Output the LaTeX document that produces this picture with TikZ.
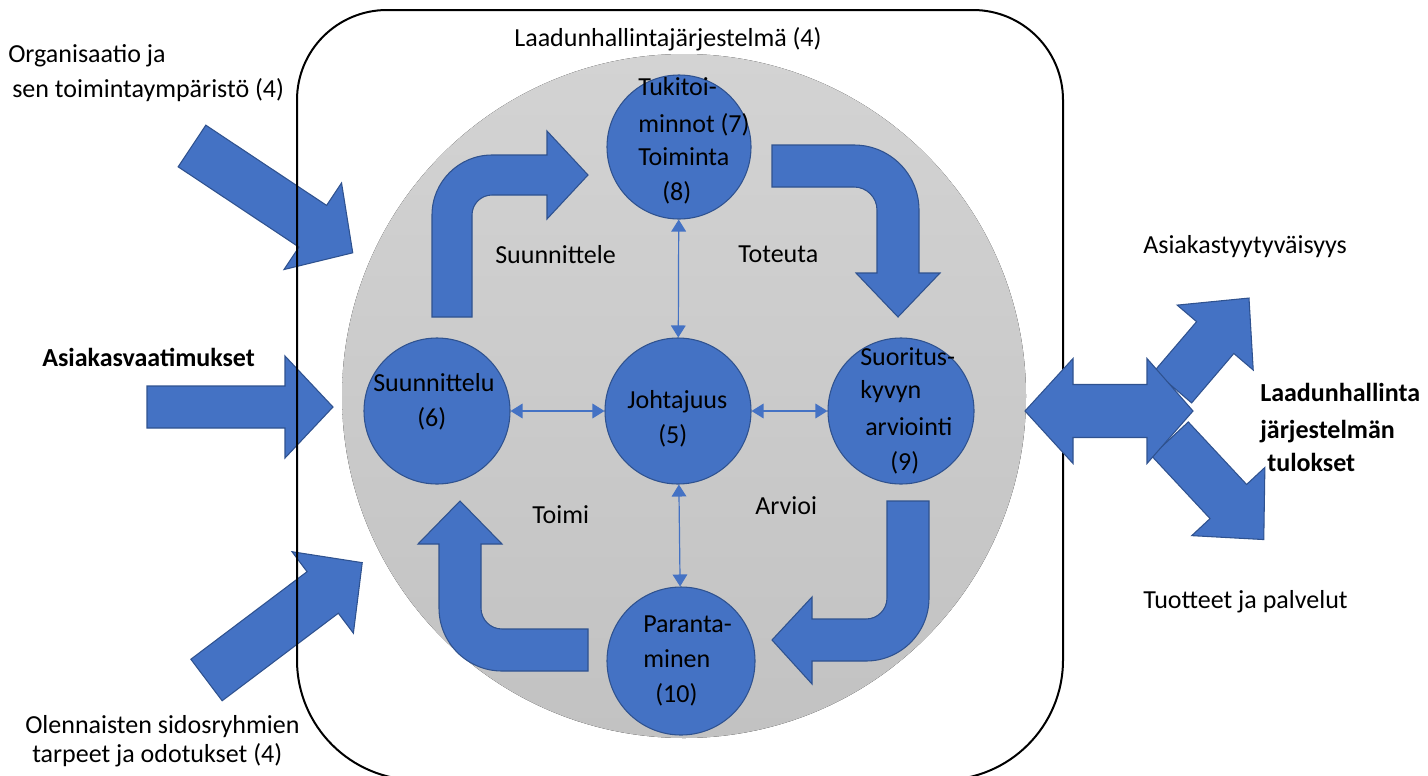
\documentclass[tikz,border=0pt]{standalone}
\usepackage{fontspec}
\setmainfont{Carlito}
\usetikzlibrary{arrows.meta}
\definecolor{blueF}{HTML}{4472C4}
\definecolor{blueD}{HTML}{2F528F}
\definecolor{discTop}{HTML}{D3D3D3}
\definecolor{discBot}{HTML}{C2C2C2}

% straight block arrow: x0, y0, angle, length, shaft half-width, head half-width, head length
\newcommand{\straightblock}[7]{%
  \begin{scope}[shift={(#1,#2)}, rotate=#3]
    \draw[blockarr] (0,-#5) -- ({#4-#7},-#5) -- ({#4-#7},-#6) -- (#4,0)
      -- ({#4-#7},#6) -- ({#4-#7},#5) -- (0,#5) -- cycle;
  \end{scope}}

\begin{document}
\begin{tikzpicture}[x=0.75pt,y=-0.75pt,
  lbl/.style={inner sep=0pt, anchor=base west, font=\fontsize{19.5}{26}\selectfont},
  blbl/.style={lbl, font=\fontsize{19.5}{26}\selectfont\bfseries},
  unit/.style={circle, fill=blueF, draw=blueD, line width=0.8pt, minimum size=#1, inner sep=0pt},
  blockarr/.style={fill=blueF, draw=blueD, line width=0.8pt, line join=miter},
  conn/.style={draw=blueF, line width=0.9pt,
    {Triangle[length=9pt,width=11pt]}-{Triangle[length=9pt,width=11pt]}}]

\useasboundingbox (0,0) rectangle (1428,775);

% the quality system disc
\fill[top color=discTop, bottom color=discBot] (684,396) circle[radius=256.5pt];

% inputs from the left
\straightblock{192}{146}{-33.6}{193}{25}{52}{48}
\straightblock{147}{407}{0}{186}{21}{51}{48}
\straightblock{206.5}{680}{37}{195}{26}{51}{49.5}

% system boundary
\draw[line width=1.5pt] (297,100) arc[start angle=180,end angle=90,radius=67.5pt]
  -- (973,10) arc[start angle=90,end angle=0,radius=67.5pt]
  -- (1063,660) arc[start angle=0,end angle=-90,radius=90pt]
  -- (417,780) arc[start angle=-90,end angle=-180,radius=90pt] -- cycle;

% outputs on the right
\straightblock{1173}{387}{49.5}{117}{24.5}{50}{52}
\straightblock{1170}{439}{-47}{137.5}{25}{50}{52}
\draw[blockarr] (1025,411) -- (1073,358.5) -- (1073,384.5) -- (1147,384.5)
  -- (1147,358.5) -- (1193,411) -- (1147,463.5) -- (1147,437.5)
  -- (1073,437.5) -- (1073,463.5) -- cycle;

% PDCA cycle arrows
\draw[blockarr] (432,317) -- (432,215) arc[start angle=180,end angle=90,radius=45pt]
  -- (547,155) -- (547,131) -- (588,175) -- (547,219) -- (547,195) -- (492,195)
  arc[start angle=90,end angle=180,radius=15pt] -- (472,317) -- cycle;
\draw[blockarr] (772,145) -- (854,145) arc[start angle=90,end angle=0,radius=48.75pt]
  -- (919,273) -- (940,273) -- (898,317) -- (856,273) -- (877,273) -- (877,210)
  arc[start angle=0,end angle=90,radius=17.25pt] -- (772,187) -- cycle;
\draw[blockarr] (929,501) -- (929,598) arc[start angle=0,end angle=-90,radius=47.25pt]
  -- (812,661) -- (812,684) -- (772,640) -- (812,597) -- (812,619) -- (866,619)
  arc[start angle=-90,end angle=0,radius=15.75pt] -- (887,501) -- cycle;
\draw[blockarr] (588,671) -- (502,671) arc[start angle=-90,end angle=-180,radius=47.25pt]
  -- (439,544) -- (418,544) -- (460,501) -- (502,544) -- (481,544) -- (481,608)
  arc[start angle=180,end angle=270,radius=15.75pt] -- (588,629) -- cycle;

% clauses
\node[unit=108pt]   (tuki)    at (679,147) {};
\node[unit=109.5pt] (suun)    at (437,411) {};
\node[unit=109.5pt] (johto)   at (678,411) {};
\node[unit=109.5pt] (suor)    at (901,411) {};
\node[unit=111pt]   (paranta) at (681,661) {};

\draw[conn] (tuki) -- (johto);
\draw[conn] (suun) -- (johto);
\draw[conn] (johto) -- (suor);
\draw[conn] (johto) -- (paranta);

% clause labels
\node[lbl] (tk1) at (638,95)  {Tukitoi-};
\node[lbl] (tk2) at (638,132) {minnot (7)};
\node[lbl] (tk3) at (638,165) {Toiminta};
\node[lbl] (tk4) at (662,200) {(8)};
\node[lbl] (su1) at (373,391) {Suunnittelu};
\node[lbl] (su2) at (417,426) {(6)};
\node[lbl] (jo1) at (627,408) {Johtajuus};
\node[lbl] (jo2) at (658,443) {(5)};
\node[lbl] (sk1) at (860,365) {Suoritus-};
\node[lbl] (sk2) at (860,398) {kyvyn};
\node[lbl] (sk3) at (865,435) {arviointi};
\node[lbl] (sk4) at (890,470) {(9)};
\node[lbl] (pa1) at (643,632) {Paranta-};
\node[lbl] (pa2) at (643,667) {minen};
\node[lbl] (pa3) at (655,702) {(10)};

% cycle labels
\node[lbl] (plan)  at (495,263) {Suunnittele};
\node[lbl] (doit)  at (738,262) {Toteuta};
\node[lbl] (act)   at (532,523) {Toimi};
\node[lbl] (check) at (755,514) {Arvioi};

% surrounding labels
\node[lbl, anchor=base] (qms) at (668,46) {Laadunhallintajärjestelmä (4)};
\node[lbl] (org1) at (8,62)  {Organisaatio ja};
\node[lbl] (org2) at (12,97) {sen toimintaympäristö (4)};
\node[blbl] (req) at (42,366) {Asiakasvaatimukset};
\node[lbl] (int1) at (25,733) {Olennaisten sidosryhmien};
\node[lbl] (int2) at (32,762) {tarpeet ja odotukset (4)};
\node[lbl] (sat)  at (1143,253) {Asiakastyytyväisyys};
\node[blbl] (res1) at (1260,401) {Laadunhallinta};
\node[blbl] (res2) at (1260,438) {järjestelmän};
\node[blbl] (res3) at (1267,471) {tulokset};
\node[lbl] (prod) at (1143,608) {Tuotteet ja palvelut};

\end{tikzpicture}
\end{document}
